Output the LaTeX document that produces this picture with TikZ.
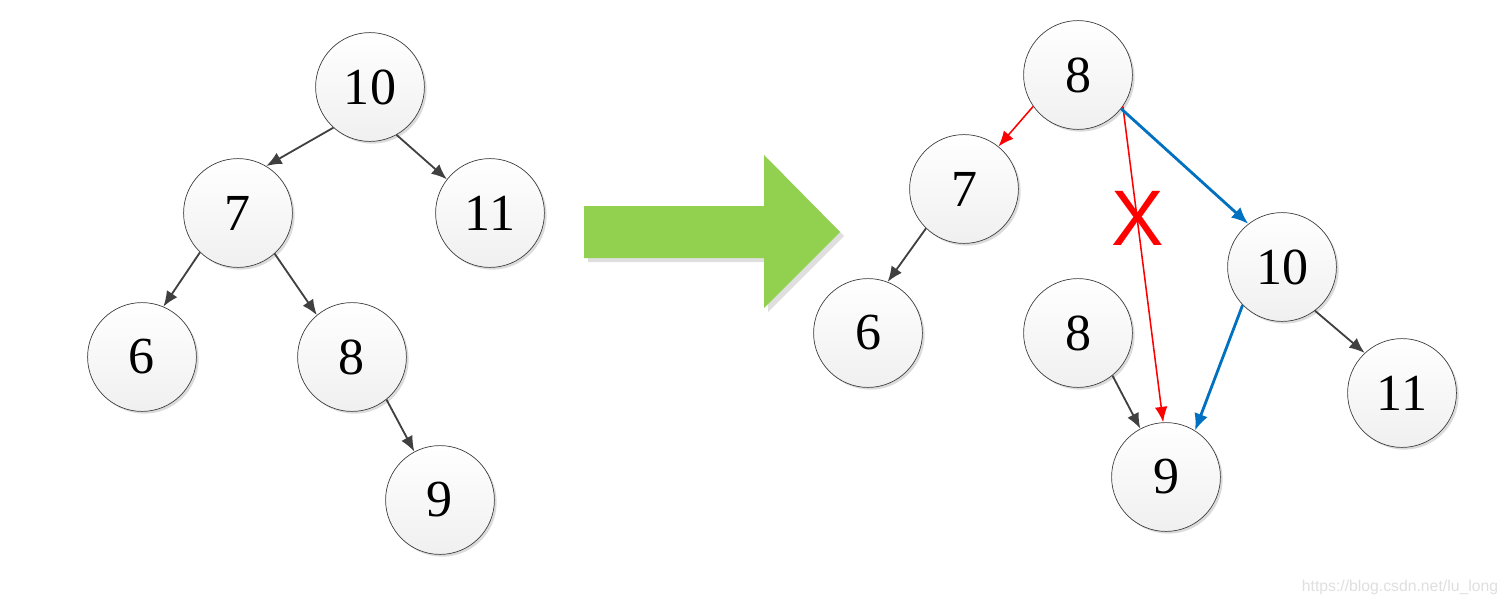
\documentclass[tikz,border=0pt]{standalone}
\usepackage{fontspec}
\setmainfont{Liberation Serif}
\setsansfont{Liberation Sans}
\usetikzlibrary{arrows.meta,shadows}

\definecolor{edgegray}{HTML}{404040}
\definecolor{arrowgreen}{HTML}{92D050}
\definecolor{edgeblue}{HTML}{0070C0}

\tikzset{
    keynode/.style={circle, draw=edgegray, line width=0.5pt, minimum size=2.72cm, inner sep=0pt,
        top color=white, bottom color=gray!12,
        drop shadow={shadow xshift=1.6pt, shadow yshift=-1.6pt, fill=gray!35, opacity=0.8},
        font=\fontsize{37}{40}\selectfont},
    treeedge/.style={draw=edgegray, line width=1.3pt, -{Latex[length=11pt,width=9pt]}},
    rededge/.style={draw=red, line width=1.1pt, -{Latex[length=11pt,width=9pt]}},
    blueedge/.style={draw=edgeblue, line width=2pt, -{Latex[length=12pt,width=10pt]}}
}

\begin{document}
\begin{tikzpicture}[x=0.025cm, y=-0.025cm]
    \useasboundingbox (0,0) rectangle (1510,605);

    % left tree
    \node[keynode] (l10) at (370,87) {10};
    \node[keynode] (l7) at (238,213) {7};
    \node[keynode] (l11) at (490,213) {11};
    \node[keynode] (l6) at (142,357) {6};
    \node[keynode] (l8) at (352,357) {8};
    \node[keynode] (l9) at (440,500) {9};
    \draw[treeedge] (l10.228) -- (l7.59);
    \draw[treeedge] (l10.-61) -- (l11.142);
    \draw[treeedge] (l7.226) -- (l6.67);
    \draw[treeedge] (l7.-48) -- (l8.130);
    \draw[treeedge] (l8.-51) -- (l9.118);

    % green arrow
    \fill[gray!25] (588,210) -- (768,210) -- (768,159) -- (844,236) -- (768,312) -- (768,262) -- (588,262) -- cycle;
    \fill[arrowgreen] (584,206) -- (764,206) -- (764,155) -- (840,232) -- (764,308) -- (764,258) -- (584,258) -- cycle;

    % right tree
    \node[keynode] (r8) at (1078,75) {8};
    \node[keynode] (r7) at (964,189) {7};
    \node[keynode] (r6) at (868,333) {6};
    \node[keynode] (r8b) at (1078,333) {8};
    \node[keynode] (r10) at (1282,267) {10};
    \node[keynode] (r11) at (1402,393) {11};
    \node[keynode] (r9) at (1166,477) {9};
    \draw[rededge] (r8.215) -- (r7.51);
    \draw[rededge] (r8.-35) -- (r9.93);
    \draw[blueedge] (r8.-38) -- (r10.128);
    \draw[blueedge] (r10.224) -- (r9.58);
    \draw[treeedge] (r8b.-51) -- (r9.118);
    \draw[treeedge] (r7.226) -- (r6.69);
    \draw[treeedge] (r10.-53) -- (r11.133);

    \node[text=red, font=\sffamily\fontsize{56}{56}\selectfont] (cross) at (1138,218) {X};

    \node[text=gray!25, font=\sffamily\fontsize{11.2}{13}\selectfont, anchor=east] (mark) at (1503,587) {https://blog.csdn.net/lu\_long};
\end{tikzpicture}
\end{document}
